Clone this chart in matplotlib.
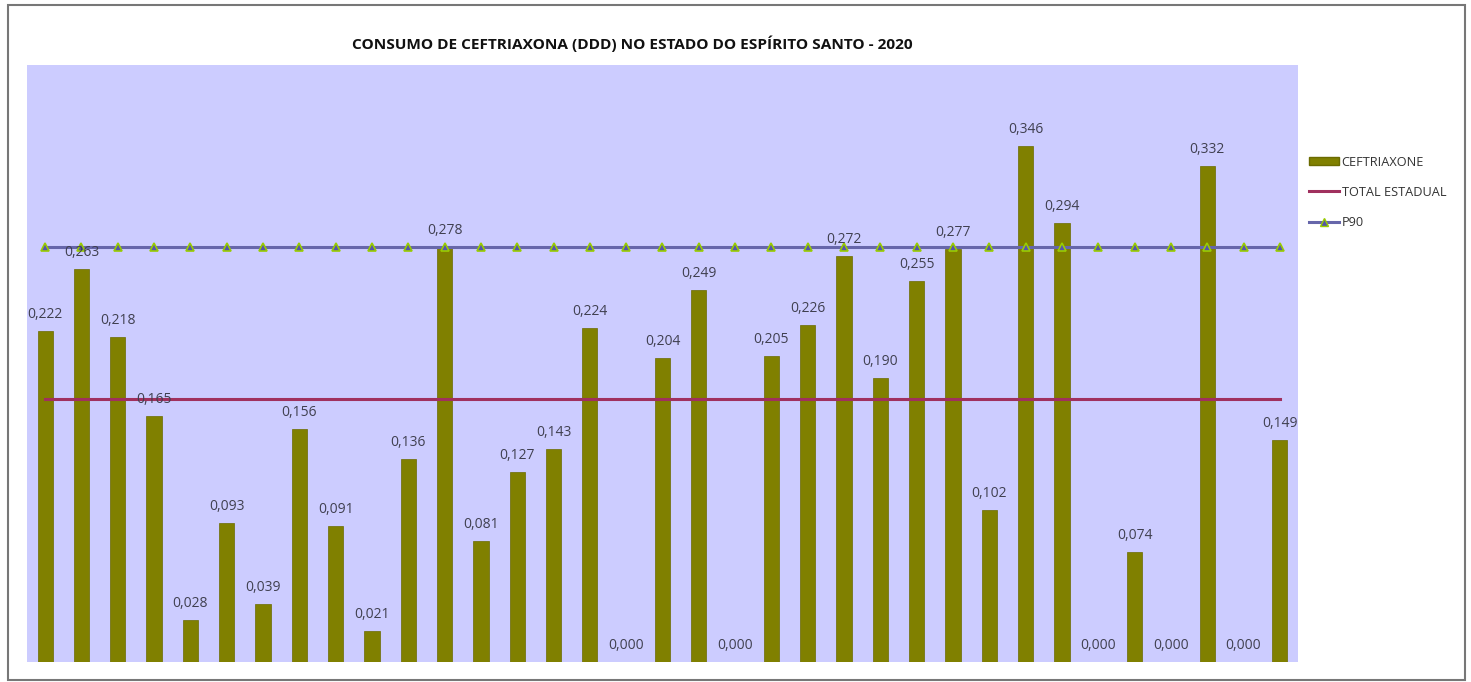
import matplotlib
matplotlib.use("Agg")
import matplotlib.pyplot as plt
from matplotlib.patches import Rectangle
from matplotlib.lines import Line2D
from matplotlib.patches import Patch

plt.rcParams['font.family'] = ['Open Sans', 'DejaVu Sans']

title = "CONSUMO DE CEFTRIAXONA (DDD) NO ESTADO DO ESPÍRITO SANTO - 2020"
values = [0.222, 0.263, 0.218, 0.165, 0.028, 0.093, 0.039, 0.156, 0.091, 0.021,
          0.136, 0.278, 0.081, 0.127, 0.143, 0.224, 0.000, 0.204, 0.249, 0.000,
          0.205, 0.226, 0.272, 0.190, 0.255, 0.277, 0.102, 0.346, 0.294, 0.000,
          0.074, 0.000, 0.332, 0.000, 0.149]
total_estadual = 0.176
p90 = 0.278
series_names = ["CEFTRIAXONE", "TOTAL ESTADUAL", "P90"]

n = len(values)
x = list(range(n))

fig = plt.figure(figsize=(14.71, 6.82), dpi=100)
fig.patch.set_facecolor('white')
ax = fig.add_axes([27/1471, 1-662/682, (1298-27)/1471, (662-65)/682])
ax.set_facecolor('#ccccff')

bars = ax.bar(x, values, width=0.42, color='#808000', edgecolor='#6b6b00', linewidth=0.5, zorder=2)
ax.plot(x, [total_estadual]*n, color='#a0305e', linewidth=2.2, zorder=3)
ax.plot(x, [p90]*n, color='#6666aa', linewidth=2.2, marker='^', markersize=6,
        markerfacecolor='#5555aa', markeredgecolor='#99cc00', markeredgewidth=1.2, zorder=4)

for xi, v in zip(x, values):
    ax.annotate(f"{v:.3f}".replace('.', ','), (xi, v), xytext=(0, 6.5), textcoords='offset points',
                ha='center', va='bottom', fontsize=10, color='#404050', zorder=5)

ax.set_xlim(-0.5, n - 0.5)
ax.set_ylim(0, 0.4)
ax.set_xticks([])
ax.set_yticks([])
for s in ax.spines.values():
    s.set_visible(False)

fig.text(632/1471, 1-44/682, title, ha='center', va='center', fontsize=11.1,
         fontweight='bold', color='#111111')

handles = [Patch(facecolor='#808000', edgecolor='#6b6b00'),
           Line2D([], [], color='#a0305e', linewidth=2.2),
           Line2D([], [], color='#6666aa', linewidth=2.2, marker='^', markersize=6,
                  markerfacecolor='#5555aa', markeredgecolor='#99cc00')]
fig.legend(handles, series_names, loc='upper left', bbox_to_anchor=(1297/1471, 1-144/682),
           frameon=False, fontsize=9.2, labelcolor='#333333', handlelength=2.4,
           handleheight=0.6, labelspacing=1.35, handletextpad=0.2)

fig.add_artist(Rectangle((8/1471, 1-680/682), (1465-8)/1471, (680-5)/682,
                         transform=fig.transFigure, fill=False, edgecolor='#777777', linewidth=1.5))

fig.savefig('out.png', dpi=100)
